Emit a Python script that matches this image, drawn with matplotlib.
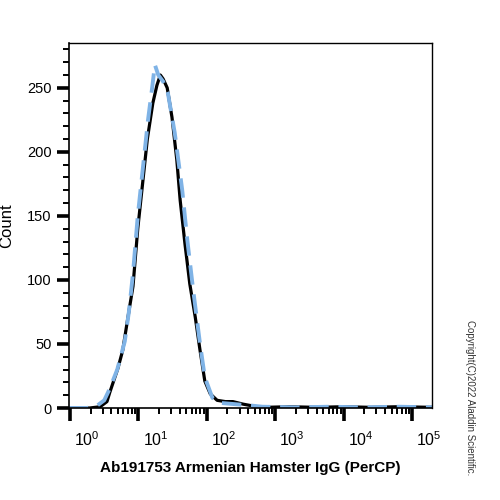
import numpy as np
import matplotlib
matplotlib.use("Agg")
import matplotlib.pyplot as plt
import matplotlib.transforms as mtransforms
from matplotlib.ticker import FixedLocator, NullFormatter

plt.rcParams["font.family"] = ["Liberation Sans", "DejaVu Sans"]
plt.rcParams["mathtext.fontset"] = "custom"
plt.rcParams["mathtext.rm"] = "Liberation Sans"
plt.rcParams["mathtext.it"] = "Liberation Sans"

# histogram traces, x given as log10 of fluorescence
black_logx = [-0.015, 0.29, 0.44, 0.54, 0.58, 0.70, 0.77, 0.85, 0.92, 0.99, 1.07,
              1.13, 1.21, 1.27, 1.32, 1.36, 1.42, 1.49, 1.56, 1.61, 1.68, 1.75,
              1.83, 1.90, 1.97, 2.05, 2.15, 2.27, 2.38, 2.53, 2.63, 2.73, 2.85,
              3.2, 3.6, 4.0, 4.4, 4.8, 5.29]
black_count = [0, 0, 1, 5, 12, 31, 45, 72, 95, 140, 180,
               210, 238, 252, 260, 257, 250, 227, 194, 162, 128, 97,
               71, 45, 21, 11, 6, 5, 5, 3, 2, 1, 0.5,
               1, 0.5, 1, 0.5, 1, 0.5]

blue_logx = [-0.015, 0.25, 0.40, 0.50, 0.58, 0.69, 0.73, 0.80, 0.86, 0.92, 0.99,
             1.07, 1.14, 1.20, 1.24, 1.29, 1.36, 1.43, 1.53, 1.64, 1.71, 1.80,
             1.90, 1.97, 2.08, 2.19, 2.41, 2.63, 2.81, 3.3, 3.8, 4.3, 4.8, 5.29]
blue_count = [0, 0, 2, 6, 15, 30, 38, 52, 75, 105, 150,
              190, 225, 250, 268, 260, 255, 246, 215, 170, 133, 92,
              50, 24, 8, 4, 3, 2, 1, 0.5, 1, 0.5, 1, 0.5]

decades = [0, 1, 2, 3, 4, 5]
y_major = [0, 50, 100, 150, 200, 250]

fig = plt.figure(figsize=(5, 5), dpi=100)
ax = fig.add_axes([0.138, 0.184, 0.726, 0.730])

ax.plot(10 ** np.array(black_logx), black_count, color="black", lw=2.3)
ax.plot(10 ** np.array(blue_logx), blue_count, color="#7fb3e6", lw=2.8,
        dashes=(5, 2.5))

ax.set_xscale("log")
ax.set_xlim(10 ** -0.015, 10 ** 5.29)
ax.set_ylim(0, 285)

# ticks
ax.xaxis.set_major_locator(FixedLocator([10.0 ** d for d in decades]))
ax.set_xticklabels([f"$10^{{{d}}}$" for d in decades])
minors = [m * 10.0 ** d for d in range(0, 5) for m in range(2, 10)]
minors = [m for m in minors if m < 10 ** 5.29] + [2e5]
ax.xaxis.set_minor_locator(FixedLocator(minors))
ax.xaxis.set_minor_formatter(NullFormatter())

ax.set_yticks(y_major)
ax.yaxis.set_minor_locator(FixedLocator(list(range(0, 290, 10))))

ax.tick_params(axis="both", which="major", direction="out", length=9,
               width=2.6, color="black")
ax.tick_params(axis="x", which="major", labelsize=11.5, pad=7)
ax.tick_params(axis="y", which="major", labelsize=10.5)
ax.tick_params(axis="both", which="minor", direction="out", length=4.5,
               width=1.4, color="black")

# FlowJo-style: decade labels sit a bit right of their ticks
offset = mtransforms.ScaledTranslation(17 / 100, 0, fig.dpi_scale_trans)
for lbl in ax.get_xticklabels():
    lbl.set_transform(lbl.get_transform() + offset)

for side in ["top", "right"]:
    ax.spines[side].set_linewidth(1.0)
for side in ["left", "bottom"]:
    ax.spines[side].set_linewidth(1.2)

ax.set_xlabel("Ab191753 Armenian Hamster IgG (PerCP)", fontsize=11,
              fontweight="bold", labelpad=9)
ax.set_ylabel("Count", fontsize=12)
ax.yaxis.set_label_coords(-0.15, 0.5)

fig.text(0.94, 0.36, "Copyright(C)2022 Aladdin Scientific.", rotation=-90,
         fontsize=7, ha="center", va="top", color="#333333")

fig.savefig("out.png", dpi=100)
